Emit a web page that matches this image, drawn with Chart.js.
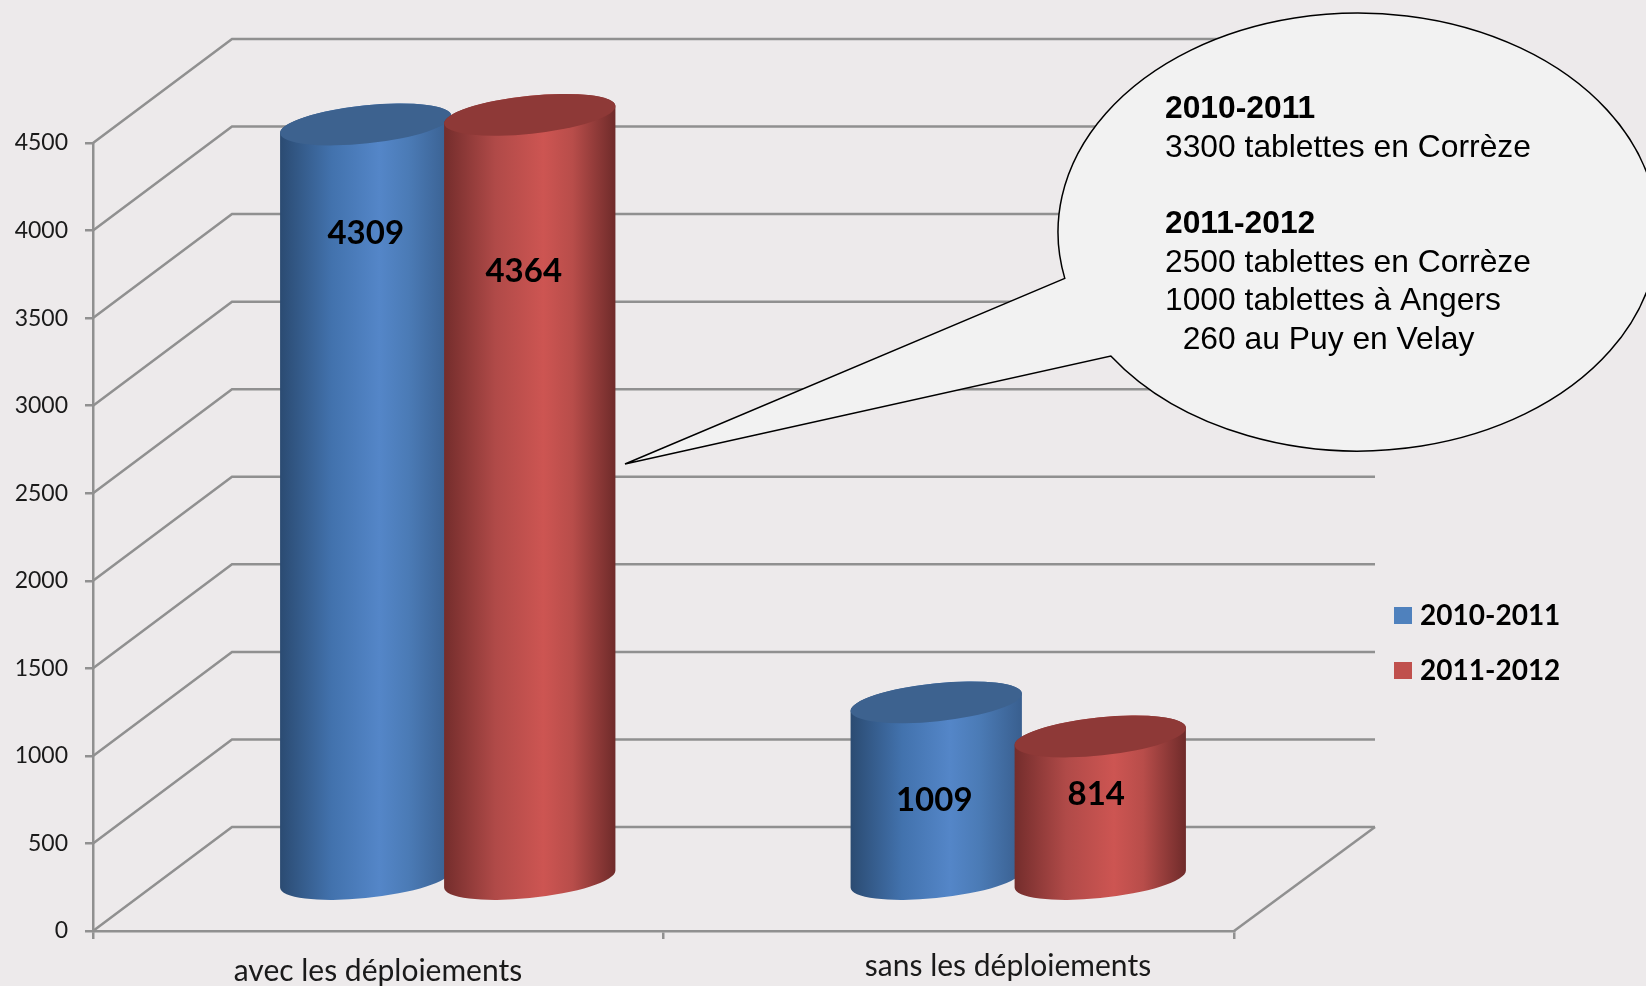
<!DOCTYPE html>
<html>
<head>
<meta charset="utf-8">
<title>Tablettes</title>
<script src="https://cdn.jsdelivr.net/npm/chart.js@4"></script>
<style>
  html, body { margin: 0; padding: 0; background: #edeaeb; overflow: hidden; }
  canvas { display: block; }
</style>
</head>
<body>
<canvas id="myChart" width="1646" height="986"></canvas>
<script>
const categories = ['avec les déploiements', 'sans les déploiements']
const seriesNames = ['2010-2011', '2011-2012']
const values2010 = [4309, 1009]
const values2011 = [4364, 814]
const yMax = 4500
const yStep = 500
const calloutLines = [
    ['2010-2011', true],
    ['3300 tablettes en Corrèze', false],
    ['2011-2012', true],
    ['2500 tablettes en Corrèze', false],
    ['1000 tablettes à Angers', false],
    ['  260 au Puy en Velay', false]
]

// depth of the fake 3d box, in pixels
const depthX = 139
const depthY = -104
const gridColor = '#909090'
const tilt = -6 * Math.PI / 180
const capHeight = 19

const blueStops = ['#2b4b72', '#4272ad', '#5486c8', '#4b7bb6', '#395f8f']
const redStops = ['#742d2c', '#b04a48', '#cd5552', '#b84d4a', '#6f2b2a']
const capColors = ['#3d628f', '#8e3937']

// label offset from the top of each cylinder: [series][category] = [dx, dy]
const labelOffsets = [
    [[0, 109], [-2, 98]],
    [[-6, 157], [-4, 58]]
]
const xLabelSpots = [[378, 971], [1008, 966]]

const drawBox = (chart) => {
    const { ctx, scales, chartArea } = chart
    const y = scales.y
    ctx.save()
    ctx.strokeStyle = gridColor
    ctx.lineWidth = 2.5
    y.ticks.forEach((tick) => {
        const py = y.getPixelForValue(tick.value)
        ctx.beginPath()
        ctx.moveTo(chartArea.left, py)
        ctx.lineTo(chartArea.left + depthX, py + depthY)
        ctx.lineTo(chartArea.right + depthX + 2, py + depthY)
        ctx.stroke()
    })
    // right edge of the floor
    ctx.beginPath()
    ctx.moveTo(chartArea.right, chartArea.bottom)
    ctx.lineTo(chartArea.right + depthX + 2, chartArea.bottom + depthY)
    ctx.stroke()
    ctx.restore()
}

const drawCylinder = (ctx, bar, base, stops, capColor) => {
    const a = bar.width / 2
    const b = capHeight
    const cx = bar.x + depthX / 2
    const topY = bar.y + depthY / 2
    const botY = base + depthY / 2
    // angle where the tilted ellipse reaches its left and right extremes
    const t = Math.atan(-(b / a) * Math.tan(tilt))
    const halfW = a * Math.cos(t) * Math.cos(tilt) - b * Math.sin(t) * Math.sin(tilt)
    const sideDy = a * Math.cos(t) * Math.sin(tilt) + b * Math.sin(t) * Math.cos(tilt)

    const grad = ctx.createLinearGradient(cx - halfW, 0, cx + halfW, 0)
    const pos = [0, 0.3, 0.58, 0.75, 1]
    stops.forEach((c, i) => grad.addColorStop(pos[i], c))

    ctx.beginPath()
    ctx.moveTo(cx + halfW, topY + sideDy)
    ctx.lineTo(cx + halfW, botY + sideDy)
    ctx.ellipse(cx, botY, a, b, tilt, t, t + Math.PI, false)
    ctx.lineTo(cx - halfW, topY - sideDy)
    ctx.ellipse(cx, topY, a, b, tilt, t + Math.PI, t + 2 * Math.PI, false)
    ctx.closePath()
    ctx.fillStyle = grad
    ctx.fill()

    ctx.beginPath()
    ctx.ellipse(cx, topY, a, b, tilt, 0, 2 * Math.PI)
    ctx.fillStyle = capColor
    ctx.fill()
}

const drawBars = (chart) => {
    const { ctx, scales } = chart
    const base = scales.y.getPixelForValue(0)
    ctx.save()
    chart.data.datasets.forEach((set, s) => {
        chart.getDatasetMeta(s).data.forEach((bar) => {
            drawCylinder(ctx, bar, base, s === 0 ? blueStops : redStops, capColors[s])
        })
    })
    // red sits in front of blue, so labels come after both
    ctx.fillStyle = '#000'
    ctx.font = 'bold 33px Lato'
    ctx.textAlign = 'center'
    ctx.textBaseline = 'middle'
    chart.data.datasets.forEach((set, s) => {
        chart.getDatasetMeta(s).data.forEach((bar, c) => {
            const off = labelOffsets[s][c]
            ctx.fillText(set.data[c], bar.x + depthX / 2 + off[0], bar.y + depthY / 2 + off[1])
        })
    })
    ctx.restore()
}

const drawXLabels = (chart) => {
    const { ctx } = chart
    ctx.save()
    ctx.fillStyle = '#1a1a1a'
    ctx.font = '30px Lato'
    ctx.textAlign = 'center'
    ctx.textBaseline = 'middle'
    categories.forEach((name, i) => ctx.fillText(name, xLabelSpots[i][0], xLabelSpots[i][1]))
    ctx.restore()
}

const drawLegend = (chart) => {
    const { ctx } = chart
    const rows = [616, 671]
    ctx.save()
    ctx.font = 'bold 28px Lato'
    ctx.textBaseline = 'middle'
    chart.data.datasets.forEach((set, i) => {
        ctx.fillStyle = set.legendColor
        ctx.fillRect(1394, rows[i] - 9, 18, 17)
        ctx.fillStyle = '#000'
        ctx.fillText(seriesNames[i], 1420, rows[i])
    })
    ctx.restore()
}

const drawCallout = (chart) => {
    const { ctx } = chart
    const cx = 1358, cy = 232, rx = 300, ry = 219
    const from = Math.atan2((278 - cy) / ry, (1067 - cx) / rx)
    const to = Math.atan2((356 - cy) / ry, (1111 - cx) / rx)
    ctx.save()
    ctx.beginPath()
    ctx.moveTo(625, 464)
    ctx.ellipse(cx, cy, rx, ry, 0, from, to + 2 * Math.PI, false)
    ctx.closePath()
    ctx.fillStyle = '#f2f2f2'
    ctx.fill()
    ctx.strokeStyle = '#000'
    ctx.lineWidth = 1.5
    ctx.stroke()

    const rowY = [109, 148, 224, 263, 301, 340]
    ctx.fillStyle = '#000'
    ctx.textBaseline = 'middle'
    calloutLines.forEach((line, i) => {
        ctx.font = (line[1] ? 'bold ' : '') + '31.8px "Liberation Sans"'
        ctx.fillText(line[0], 1165, rowY[i])
    })
    ctx.restore()
}

const fakeBox = {
    id: 'fakeBox',
    beforeDatasetsDraw: drawBox,
    afterDatasetsDraw(chart) {
        drawBars(chart)
        drawXLabels(chart)
        drawLegend(chart)
        drawCallout(chart)
    }
}

new Chart(document.getElementById('myChart'), {
    type: 'bar',
    data: {
        labels: categories,
        datasets: [
            { label: seriesNames[0], data: values2010, backgroundColor: 'transparent', legendColor: '#4f81bd' },
            { label: seriesNames[1], data: values2011, backgroundColor: 'transparent', legendColor: '#c0504d' }
        ]
    },
    options: {
        responsive: false,
        animation: false,
        categoryPercentage: 0.575,
        barPercentage: 1.05,
        layout: { padding: { top: 143, right: 412 } },
        plugins: {
            legend: { display: false },
            tooltip: { enabled: false }
        },
        scales: {
            x: {
                afterFit(scale) { scale.height = 55 },
                border: { color: gridColor, width: 2.5 },
                grid: { color: gridColor, lineWidth: 2.5, tickLength: 8, drawOnChartArea: false, offset: true },
                ticks: { display: false }
            },
            y: {
                min: 0,
                max: yMax,
                afterFit(scale) { scale.width = 93 },
                border: { color: gridColor, width: 2.5 },
                grid: { color: gridColor, lineWidth: 2.5, tickLength: 8, drawOnChartArea: false },
                ticks: {
                    stepSize: yStep,
                    padding: 17,
                    color: '#1a1a1a',
                    font: { family: 'Lato', size: 23 },
                    callback: (value) => String(value)
                }
            }
        }
    },
    plugins: [fakeBox]
})
</script>
</body>
</html>
